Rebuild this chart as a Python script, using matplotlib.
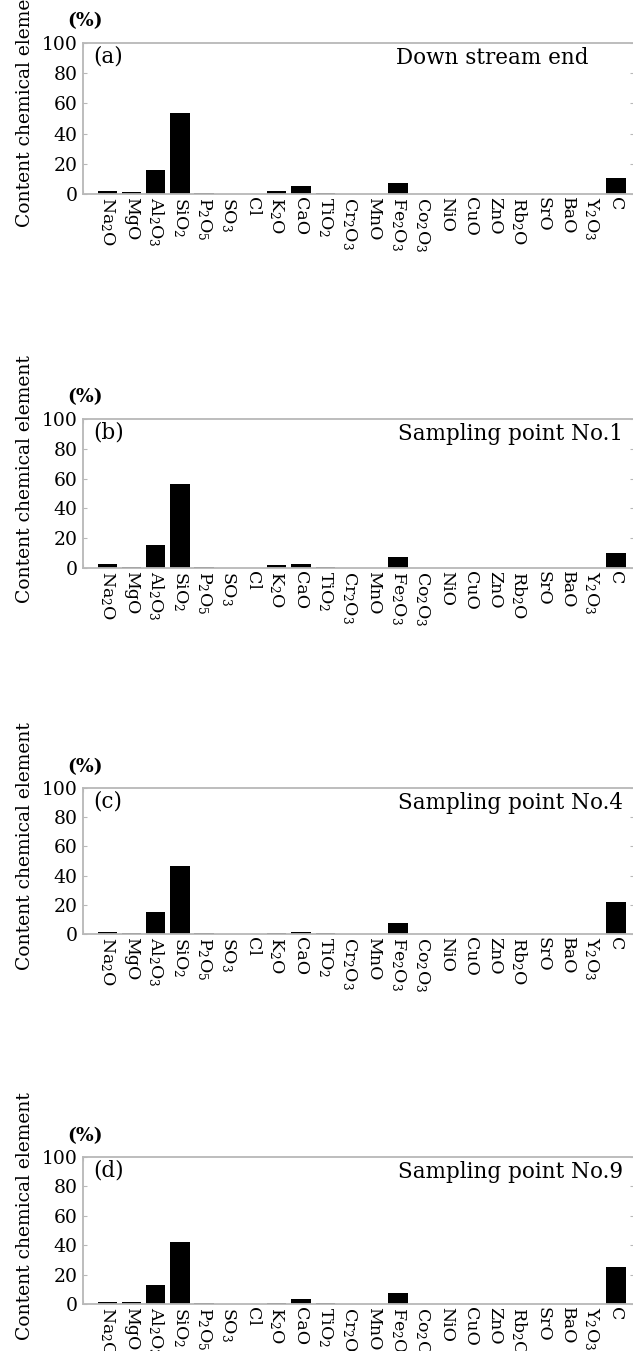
import numpy as np
import matplotlib
matplotlib.use("Agg")
import matplotlib.pyplot as plt
from matplotlib.ticker import FixedLocator

plt.rcParams['font.family'] = ['DejaVu Serif']
plt.rcParams['mathtext.fontset'] = 'dejavuserif'

# oxide / element names on the x axis
categories = ['Na$_2$O', 'MgO', 'Al$_2$O$_3$', 'SiO$_2$', 'P$_2$O$_5$', 'SO$_3$', 'Cl',
              'K$_2$O', 'CaO', 'TiO$_2$', 'Cr$_2$O$_3$', 'MnO', 'Fe$_2$O$_3$', 'Co$_2$O$_3$',
              'NiO', 'CuO', 'ZnO', 'Rb$_2$O', 'SrO', 'BaO', 'Y$_2$O$_3$', 'C']

# content (%)
down_stream_end = [1.8, 1.3, 16.2, 53.8, 0.4, 0.3, 0.1, 1.7, 5.5, 0.9, 0.1, 0.3, 7.6,
                   0.1, 0.05, 0.1, 0.1, 0.05, 0.2, 0.1, 0.05, 10.9]
point_no1 = [2.6, 1.0, 15.6, 56.3, 0.5, 0.3, 0.1, 2.1, 2.8, 0.8, 0.1, 0.2, 7.1,
             0.1, 0.05, 0.1, 0.1, 0.05, 0.2, 0.1, 0.05, 10.4]
point_no4 = [1.6, 1.0, 15.0, 46.9, 0.4, 0.2, 0.1, 0.9, 1.5, 0.7, 0.1, 0.2, 7.7,
             0.1, 0.05, 0.1, 0.1, 0.05, 0.2, 0.1, 0.05, 21.9]
point_no9 = [1.5, 1.4, 12.7, 42.4, 0.4, 0.2, 0.1, 1.0, 3.2, 0.8, 0.1, 0.3, 7.3,
             0.1, 0.05, 0.1, 0.1, 0.05, 0.2, 0.1, 0.05, 25.0]

panel_letters = ['(a)', '(b)', '(c)', '(d)']
panel_titles = ['Down stream end', 'Sampling point No.1', 'Sampling point No.4', 'Sampling point No.9']
series = [down_stream_end, point_no1, point_no4, point_no9]
yticks = [0, 20, 40, 60, 80, 100]

W, H = 633, 1351
fig = plt.figure(figsize=(W / 100, H / 100), dpi=100)

# panel boxes in pixels (top, bottom)
boxes = [(43, 194), (419, 568), (788, 934), (1157, 1304)]
left_px, right_px = 83, 634
title_right = [0.917, 0.98, 0.98, 0.98]

grey = '#b8b8b8'
x = np.arange(1, len(categories) + 1)

for i, (top, bot) in enumerate(boxes):
    ax = fig.add_axes([left_px / W, 1 - bot / H, (right_px - left_px) / W, (bot - top) / H])
    ax.bar(x, series[i], width=0.8, color='black', edgecolor='none')
    ax.set_xlim(0, 22.75)
    ax.set_ylim(0, 100)

    for s in ax.spines.values():
        s.set_color(grey)
        s.set_linewidth(1.3)

    ax.set_yticks(yticks)
    ax.set_yticklabels([str(v) for v in yticks], fontsize=13.5)
    ax.tick_params(axis='y', direction='in', length=3, width=0.8, color=grey,
                   right=True, pad=4)

    ax.set_xticks(x)
    ax.set_xticklabels(categories, rotation=270, fontsize=12.5, va='top', ha='center')
    ax.tick_params(axis='x', which='major', length=0, pad=2)
    ax.xaxis.set_minor_locator(FixedLocator([0, 5, 10, 15, 20]))
    ax.tick_params(axis='x', which='minor', direction='in', length=3, width=0.8,
                   color=grey, top=True, bottom=True)

    ax.text(0.018, 0.91, panel_letters[i], transform=ax.transAxes, fontsize=15.5,
            ha='left', va='center')
    ax.text(title_right[i], 0.9, panel_titles[i], transform=ax.transAxes, fontsize=15.5,
            ha='right', va='center')
    ax.text(0.004, 1.145, '(%)', transform=ax.transAxes, fontsize=13.5,
            fontweight='bold', ha='center', va='center')
    ax.text(-0.105, 0.6, 'Content chemical element', transform=ax.transAxes,
            fontsize=13.5, rotation=90, ha='center', va='center')

fig.savefig('out.png', dpi=100)
